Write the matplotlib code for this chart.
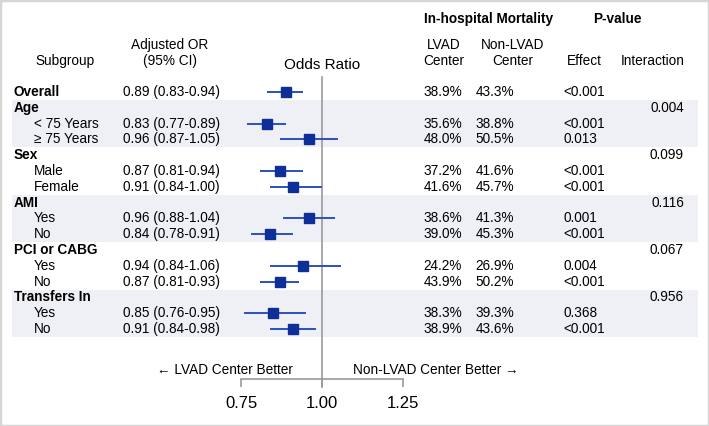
"""
Forest plot: LVAD vs non-LVAD center, in-hospital mortality
"""

import matplotlib.pyplot as plt
from matplotlib.patches import Rectangle

plt.rcParams['font.family'] = ['Liberation Sans', 'DejaVu Sans']

# 数据
labels = ["Overall", "Age", "< 75 Years", "\u2265 75 Years", "Sex", "Male", "Female",
          "AMI", "Yes", "No", "PCI or CABG", "Yes", "No", "Transfers In", "Yes", "No"]
is_header = [True, True, False, False, True, False, False,
             True, False, False, True, False, False, True, False, False]
odds = [0.89, None, 0.83, 0.96, None, 0.87, 0.91, None, 0.96, 0.84,
        None, 0.94, 0.87, None, 0.85, 0.91]
ci_low = [0.83, None, 0.77, 0.87, None, 0.81, 0.84, None, 0.88, 0.78,
          None, 0.84, 0.81, None, 0.76, 0.84]
ci_high = [0.94, None, 0.89, 1.05, None, 0.94, 1.00, None, 1.04, 0.91,
           None, 1.06, 0.93, None, 0.95, 0.98]
lvad = ["38.9%", "", "35.6%", "48.0%", "", "37.2%", "41.6%", "", "38.6%", "39.0%",
        "", "24.2%", "43.9%", "", "38.3%", "38.9%"]
non_lvad = ["43.3%", "", "38.8%", "50.5%", "", "41.6%", "45.7%", "", "41.3%", "45.3%",
            "", "26.9%", "50.2%", "", "39.3%", "43.6%"]
p_effect = ["<0.001", "", "<0.001", "0.013", "", "<0.001", "<0.001", "", "0.001", "<0.001",
            "", "0.004", "<0.001", "", "0.368", "<0.001"]
p_interaction = ["", "0.004", "", "", "0.099", "", "", "0.116", "", "",
                 "0.067", "", "", "0.956", "", ""]
shaded_groups = [1, 7, 13]  # Age, AMI, Transfers In
xticks = [0.75, 1.00, 1.25]

W, H = 709, 426
ROW0, DY = 92, 15.8  # 第一行像素位置 / 行距


def px2row(py):
    return (py - ROW0) / DY


fig = plt.figure(figsize=(W / 100, H / 100), dpi=100)

# 表格层 (x: 像素, y: 行号)
tab = fig.add_axes([0, 0, 1, 1])
tab.set_xlim(0, W)
tab.set_ylim(px2row(H), px2row(0))
tab.axis('off')

fs = 9.8
band = '#EFF0F5'
for g in shaded_groups:
    tab.add_patch(Rectangle((12, g - 0.5), 686, 3, facecolor=band, edgecolor='none', zorder=0))

for i, lab in enumerate(labels):
    if is_header[i]:
        tab.text(14, i, lab, fontsize=fs, fontweight='bold', va='center', ha='left')
    else:
        tab.text(34, i, lab, fontsize=fs, va='center', ha='left')
    if odds[i] is not None:
        tab.text(123, i, f"{odds[i]:.2f} ({ci_low[i]:.2f}-{ci_high[i]:.2f})",
                 fontsize=fs, va='center', ha='left')
    tab.text(443, i, lvad[i], fontsize=fs, va='center', ha='center')
    tab.text(495, i, non_lvad[i], fontsize=fs, va='center', ha='center')
    tab.text(563, i, p_effect[i], fontsize=fs, va='center', ha='left')
    tab.text(684, i, p_interaction[i], fontsize=fs, va='center', ha='right')

# 表头
tab.text(489, px2row(19), 'In-hospital Mortality', fontsize=fs, fontweight='bold', ha='center', va='center')
tab.text(617, px2row(19), 'P-value', fontsize=fs, fontweight='bold', ha='center', va='center')
tab.text(65, px2row(61), 'Subgroup', fontsize=fs, ha='center', va='center')
tab.text(170, px2row(45), 'Adjusted OR', fontsize=fs, ha='center', va='center')
tab.text(170, px2row(61), '(95% CI)', fontsize=fs, ha='center', va='center')
tab.text(444, px2row(45), 'LVAD', fontsize=fs, ha='center', va='center')
tab.text(444, px2row(61), 'Center', fontsize=fs, ha='center', va='center')
tab.text(513, px2row(45), 'Non-LVAD', fontsize=fs, ha='center', va='center')
tab.text(513, px2row(61), 'Center', fontsize=fs, ha='center', va='center')
tab.text(584, px2row(61), 'Effect', fontsize=fs, ha='center', va='center')
tab.text(653, px2row(61), 'Interaction', fontsize=fs, ha='center', va='center')
tab.text(322, px2row(65), 'Odds Ratio', fontsize=11, ha='center', va='center')
tab.text(293, px2row(370), '\u2190 LVAD Center Better', fontsize=fs, ha='right', va='center')
tab.text(353, px2row(370), 'Non-LVAD Center Better \u2192', fontsize=fs, ha='left', va='center')

# 森林图层
x0, x1 = 241, 403
top_px, bot_px = 77, 379
ax = fig.add_axes([x0 / W, 1 - bot_px / H, (x1 - x0) / W, (bot_px - top_px) / H])
ax.patch.set_alpha(0)
ax.set_xlim(xticks[0], xticks[-1])
ax.set_ylim(px2row(bot_px), px2row(top_px))

grey = '#9A9A9A'
ax.axvline(1.0, ymin=-8 / (bot_px - top_px), ymax=1, color=grey, lw=1.2, clip_on=False, zorder=1)
for i in range(len(labels)):
    if odds[i] is None:
        continue
    ax.plot([ci_low[i], ci_high[i]], [i, i], color='#2B52BD', lw=1.4, zorder=2,
            solid_capstyle='butt', clip_on=False)
    ax.plot(odds[i], i, marker='s', markersize=6.8, color='#0E2E98', zorder=3, clip_on=False)

for s in ['top', 'right', 'left']:
    ax.spines[s].set_visible(False)
ax.spines['bottom'].set_color(grey)
ax.spines['bottom'].set_linewidth(1.2)
ax.set_yticks([])
ax.set_xticks(xticks)
ax.set_xticklabels([f"{t:.2f}" for t in xticks], fontsize=12)
ax.tick_params(axis='x', direction='out', length=6, width=1.2, color=grey, pad=6)

# 外框
fig.patches.append(Rectangle((0, 0), 1, 1, transform=fig.transFigure, fill=False,
                             edgecolor='#D6D6D6', linewidth=2.5))

plt.savefig('out.png', dpi=100)
plt.close()
